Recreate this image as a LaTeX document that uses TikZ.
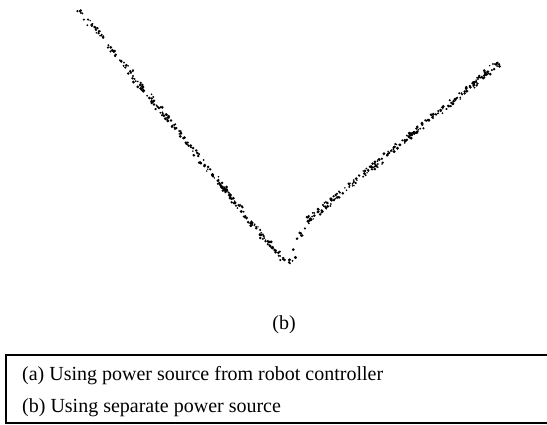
\documentclass[tikz,border=0pt]{standalone}
\usepackage{fontspec}
\setmainfont{Liberation Serif}
\usepackage{tikz}
\usetikzlibrary{calc}
\tikzstyle{sample}=[fill=black]
\tikzstyle{label}=[font=\fontsize{20}{24}\selectfont,inner sep=0pt]
\tikzstyle{frame} = [draw,line width=1.1pt]

\begin{document}
\begin{tikzpicture}[x=1pt,y=-1pt]
    \useasboundingbox (0,0) rectangle (547,425);
    \pgfmathsetseed{4711}

    % scattered samples along each piece of the curve
    \foreach \xa/\ya/\xb/\yb/\num in {79/9/272/248/250, 272/248/283/258/8, 283/258/291/262/6, 291/262/297/246/6, 297/246/306/222/7, 306/222/500/62/260}
        \foreach \i in {1,...,\num} {
            \pgfmathsetmacro{\t}{rnd}
            \pgfmathsetmacro{\px}{\xa+(\xb-\xa)*\t+2.5*rand}
            \pgfmathsetmacro{\py}{\ya+(\yb-\ya)*\t+3*rand}
            \pgfmathsetmacro{\rr}{0.8+0.8*rnd}
            \path[sample] (\px,\py) circle (\rr pt);
        }

    \node[label] (caption) at (284,325) {(b)};

    % legend
    \node[label,anchor=west] (rowa) at (22,376) {(a) Using power source from robot controller};
    \node[label,anchor=west] (rowb) at (22,408) {(b) Using separate power source};
    \coordinate (tr) at (547,355);
    \coordinate (tl) at (6,355);
    \coordinate (bl) at (6,423);
    \coordinate (br) at (547,423);
    \path[frame] (tr) -- (tl) -- (bl) -- (br);

\end{tikzpicture}
\end{document}
